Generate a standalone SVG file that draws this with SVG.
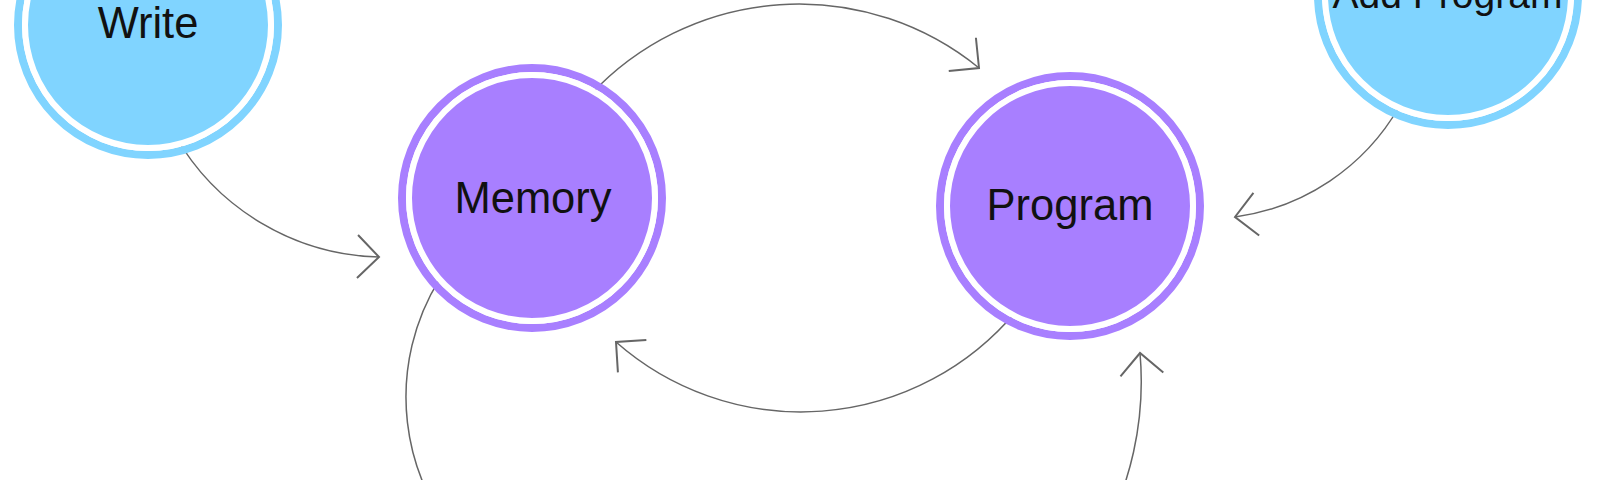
<svg xmlns="http://www.w3.org/2000/svg" width="1600" height="480" viewBox="0 0 1600 480">
  <style>
    .link { fill: none; stroke: #666666; stroke-width: 1.5; }
    .ring-p { fill: none; stroke: #a87fff; stroke-width: 8; }
    .core-p { fill: #a87fff; stroke: #ffffff; stroke-width: 6; }
    .ring-b { fill: none; stroke: #80d4ff; stroke-width: 8; }
    .core-b { fill: #80d4ff; stroke: #ffffff; stroke-width: 6; }
    .label { font-family: "Liberation Sans", Arial, sans-serif; font-size: 43.5px; fill: #111111; text-anchor: middle; }
  </style>
  <defs>
    <marker id="arrow" markerUnits="userSpaceOnUse" markerWidth="60" markerHeight="60" refX="0" refY="0" viewBox="-30 -30 60 60" orient="auto" overflow="visible">
      <path d="M-21.5,-21.5 L0,0 L-21.5,21.5" fill="none" stroke="#666666" stroke-width="2"/>
    </marker>
  </defs>
  <rect width="1600" height="480" fill="#ffffff"/>
  <g id="connectors">
    <path class="link" d="M175.4,136 A242,242 0 0,0 379,257" marker-end="url(#arrow)"/>
    <path class="link" d="M590.6,94.6 A285,285 0 0,1 979,68" marker-end="url(#arrow)"/>
    <path class="link" d="M1015.5,312 A280,280 0 0,1 616,342" marker-end="url(#arrow)"/>
    <path class="link" d="M1399,107 A224,224 0 0,1 1235,217" marker-end="url(#arrow)"/>
    <path class="link" d="M440,278.3 A224,224 0 0,0 471.6,555.4"/>
    <path class="link" d="M1097.5,544.5 A325,325 0 0,0 1140,353" marker-end="url(#arrow)"/>
  </g>
  <g id="node-write">
    <circle class="ring-b" cx="148" cy="25" r="130"/>
    <circle class="core-b" cx="148" cy="25" r="123"/>
    <text class="label" x="148" y="37.5">Write</text>
  </g>
  <g id="node-memory">
    <circle class="ring-p" cx="532" cy="198" r="130"/>
    <circle class="core-p" cx="532" cy="198" r="123"/>
    <text class="label" x="533" y="213">Memory</text>
  </g>
  <g id="node-program">
    <circle class="ring-p" cx="1070" cy="206" r="130"/>
    <circle class="core-p" cx="1070" cy="206" r="123"/>
    <text class="label" x="1070" y="220">Program</text>
  </g>
  <g id="node-add-program">
    <circle class="ring-b" cx="1448" cy="-5" r="130"/>
    <circle class="core-b" cx="1448" cy="-5" r="123"/>
    <text class="label" x="1447.5" y="8" style="font-size:39px">Add Program</text>
  </g>
</svg>
